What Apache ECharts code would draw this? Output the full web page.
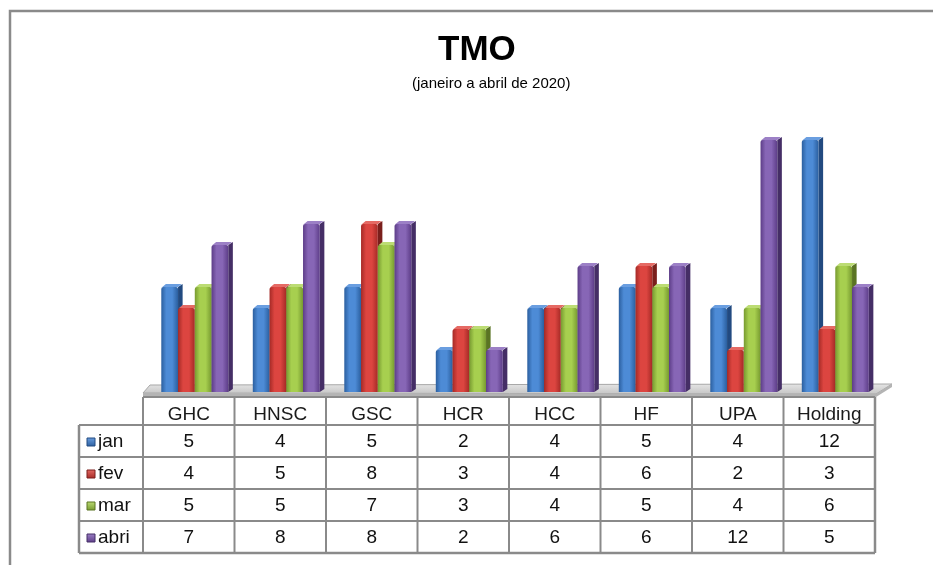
<!DOCTYPE html>
<html>
<head>
<meta charset="utf-8">
<script src="https://cdn.jsdelivr.net/npm/echarts@6/dist/echarts.min.js"></script>
<style>
  html, body { margin: 0; padding: 0; background: #ffffff; }
  #chart { width: 933px; height: 565px; }
</style>
</head>
<body>
<div id="chart"></div>
<script>
// ---- data ----
const categories = ['GHC', 'HNSC', 'GSC', 'HCR', 'HCC', 'HF', 'UPA', 'Holding'];
const seriesNames = ['jan', 'fev', 'mar', 'abri'];
const jan  = [5, 4, 5, 2, 4, 5, 4, 12];
const fev  = [4, 5, 8, 3, 4, 6, 2, 3];
const mar  = [5, 5, 7, 3, 4, 5, 4, 6];
const abri = [7, 8, 8, 2, 6, 6, 12, 5];
const seriesValues = [jan, fev, mar, abri];
const titleText = 'TMO';
const subtitleText = '(janeiro a abril de 2020)';

// ---- styles ----
const palette = [
  { dark: '#2b5f9f', light: '#4d8bd6', side: '#224a80', top: '#6a9ee0' },
  { dark: '#a52a26', light: '#dc4540', side: '#7a1f1c', top: '#e56a64' },
  { dark: '#779a30', light: '#a7cf4f', side: '#5a7423', top: '#bcdc74' },
  { dark: '#5d3d88', light: '#8766b6', side: '#452e66', top: '#9c80c6' }
];
const FONT = "'Liberation Sans', Arial, sans-serif";
const GRID_COLOR = '#8a8a8a';

function renderBar(params, api) {
  const s = params.seriesIndex;
  const i = api.value(0);
  const v = api.value(1);
  const base = api.coord([i, 0]);
  const top = api.coord([i, v]);
  const cw = api.size([1, 0])[0];
  const step = cw * 0.183;
  const x = base[0] - cw * 0.30 + s * step;
  const w = step;
  const d = cw * 0.05;
  const dy = 3;
  const y0 = base[1], y1 = top[1];
  const c = palette[s];
  return {
    type: 'group',
    children: [
      { type: 'polygon', shape: { points: [[x + w, y1], [x + w + d, y1 - dy], [x + w + d, y0 - dy], [x + w, y0]] },
        style: { fill: c.side } },
      { type: 'polygon', shape: { points: [[x + 1, y1], [x + d, y1 - dy], [x + w + d - 1, y1 - dy], [x + w, y1]] },
        style: { fill: c.top } },
      { type: 'rect', shape: { x: x, y: y1, width: w, height: y0 - y1, r: [2, 2, 0, 0] },
        style: { fill: { type: 'linear', x: 0, y: 0, x2: 1, y2: 0, colorStops: [
          { offset: 0, color: c.dark }, { offset: 0.3, color: c.light },
          { offset: 0.65, color: c.light }, { offset: 1, color: c.dark } ] } } }
    ]
  };
}

const chart = echarts.init(document.getElementById('chart'), null, { renderer: 'canvas' });
chart.setOption({
  animation: false,
  backgroundColor: '#ffffff',
  title: [
    { text: titleText, left: 438, top: 33, padding: 0,
      textStyle: { fontFamily: FONT, fontSize: 35, fontWeight: 'bold', color: '#000000' } },
    { text: subtitleText, left: 412, top: 76, padding: 0,
      textStyle: { fontFamily: FONT, fontSize: 15, fontWeight: 'normal', color: '#000000' } }
  ],
  grid: { left: 143, right: 58, top: 140, bottom: 173, containLabel: false },
  xAxis: { type: 'category', data: categories, axisLine: { show: false }, axisTick: { show: false },
           axisLabel: { show: false }, splitLine: { show: false } },
  yAxis: { type: 'value', min: 0, max: 12, axisLine: { show: false }, axisTick: { show: false },
           axisLabel: { show: false }, splitLine: { show: false } },
  series: seriesNames.map((name, s) => ({
    type: 'custom', name: name,
    renderItem: renderBar,
    encode: { x: 0, y: 1 },
    data: seriesValues[s].map((v, i) => [i, v]),
    z: 3
  }))
});

// ---- build frame, floor and data table from the axis scale ----
const centers = categories.map((c, i) => chart.convertToPixel({ xAxisIndex: 0 }, i));
const cw = centers[1] - centers[0];
const L = centers[0] - cw / 2;
const R = centers[centers.length - 1] + cw / 2;
const base = chart.convertToPixel({ yAxisIndex: 0 }, 0);
const headerTop = base + 5;
const headerH = 28;
const rowH = 32;
const legendLeft = L - 64;
const tableBottom = headerTop + headerH + rowH * seriesNames.length;

const g = [];
// outer frame
g.push({ type: 'polyline', shape: { points: [[10, 565], [10, 11], [933, 11]] },
  style: { stroke: '#8a8a8a', lineWidth: 2.5, fill: null }, z: 0 });
// floor
g.push({ type: 'polygon', shape: { points: [[L, base + 1], [L + 7, base - 7], [R + 17, base - 8], [R + 1, base + 2]] },
  style: { fill: { type: 'linear', x: 0, y: 0, x2: 0, y2: 1, colorStops: [
    { offset: 0, color: '#e6e6e6' }, { offset: 1, color: '#c4c4c4' } ] }, stroke: '#a8a8a8', lineWidth: 1 }, z: 1 });
g.push({ type: 'polygon', shape: { points: [[L, base + 1], [R + 1, base + 2], [R + 17, base - 8], [R + 17, base - 5], [R + 1, base + 5], [L, base + 5]] },
  style: { fill: '#b4b4b4' }, z: 1 });

// table lines
const lineStyle = { stroke: GRID_COLOR, lineWidth: 2 };
g.push({ type: 'line', shape: { x1: L, y1: headerTop, x2: R, y2: headerTop }, style: lineStyle, z: 5 });
for (let r = 0; r <= seriesNames.length; r++) {
  const y = headerTop + headerH + r * rowH;
  g.push({ type: 'line', shape: { x1: legendLeft, y1: y, x2: R, y2: y }, style: { stroke: GRID_COLOR, lineWidth: r === seriesNames.length ? 2.5 : 2 }, z: 5 });
}
g.push({ type: 'line', shape: { x1: legendLeft, y1: headerTop + headerH, x2: legendLeft, y2: tableBottom }, style: { stroke: GRID_COLOR, lineWidth: 2.5 }, z: 5 });
for (let c = 0; c <= categories.length; c++) {
  const x = L + c * cw;
  g.push({ type: 'line', shape: { x1: x, y1: headerTop, x2: x, y2: tableBottom }, style: { stroke: GRID_COLOR, lineWidth: c === categories.length ? 2.5 : 2 }, z: 5 });
}
// header labels
categories.forEach((cat, i) => {
  g.push({ type: 'text', x: centers[i], y: headerTop + 18, z: 6,
    style: { text: cat, fontFamily: FONT, fontSize: 19, fill: '#1a1a1a', align: 'center', verticalAlign: 'middle' } });
});
// rows
seriesNames.forEach((name, s) => {
  const yMid = headerTop + headerH + s * rowH + rowH / 2 + 1;
  const c = palette[s];
  g.push({ type: 'rect', shape: { x: legendLeft + 8, y: yMid - 4, width: 8, height: 8 }, z: 6,
    style: { fill: { type: 'linear', x: 0, y: 0, x2: 0, y2: 1, colorStops: [
      { offset: 0, color: c.top }, { offset: 1, color: c.dark } ] }, stroke: c.side, lineWidth: 1 } });
  g.push({ type: 'text', x: legendLeft + 19, y: yMid, z: 6,
    style: { text: name, fontFamily: FONT, fontSize: 19, fill: '#111111', align: 'left', verticalAlign: 'middle' } });
  seriesValues[s].forEach((v, i) => {
    g.push({ type: 'text', x: centers[i], y: yMid, z: 6,
      style: { text: String(v), fontFamily: FONT, fontSize: 19, fill: '#111111', align: 'center', verticalAlign: 'middle' } });
  });
});

chart.setOption({ graphic: { elements: g } });
</script>
</body>
</html>
